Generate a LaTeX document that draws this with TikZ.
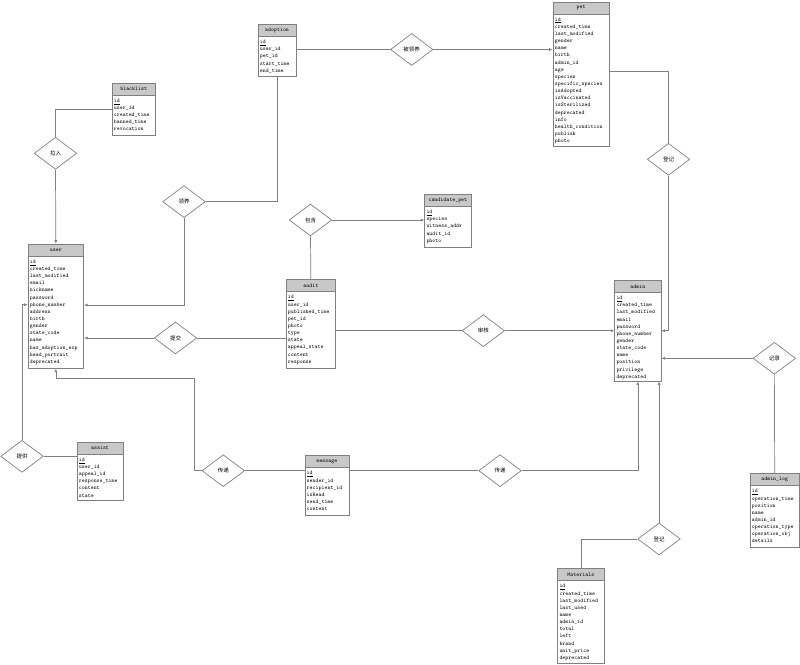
\documentclass[tikz,border=0pt]{standalone}
\usepackage{fontspec}
\newfontfamily\cjk{Noto Sans CJK SC}
\usetikzlibrary{shapes.geometric,arrows.meta}
\definecolor{lg}{RGB}{128,128,128}
\definecolor{hd}{RGB}{200,200,200}
\tikzset{
 entbox/.style={draw=lg, fill=white, line width=0.7pt, inner sep=0pt},
 enthead/.style={draw=lg, fill=hd, line width=0.7pt, minimum height=12pt, inner sep=0pt, font=\ttfamily\fontsize{5.6}{6}\selectfont},
 entrows/.style={align=left, inner xsep=2pt, inner ysep=3.3pt, font=\ttfamily\fontsize{5.6}{7.15}\selectfont, text=black},
 rel/.style={draw=lg, fill=white, diamond, line width=0.7pt, minimum width=42.5pt, minimum height=32pt, inner sep=0pt, font=\cjk\fontsize{5.5}{6}\selectfont},
 conn/.style={draw=lg, line width=0.7pt},
 arr/.style={conn, -{Latex[length=3.5pt,width=3pt]}},
}
\newcommand{\erent}[7]{%
 \node[entbox, minimum width=#4pt, minimum height=#5pt, anchor=north west] (#1) at (#2,#3) {};
 \node[enthead, minimum width=#4pt, anchor=north west] (#1-h) at (#1.north west) {#6};
 \node[entrows, anchor=north west] (#1-r) at (#1-h.south west) {#7};
}
\begin{document}
\begin{tikzpicture}[x=1pt,y=-1pt]
\useasboundingbox (0,0) rectangle (800,664);
\fill[white] (0,0) rectangle (800,664);

\erent{adoption}{257.7}{24}{38}{52}{adoption}{\underline{id}\\user\_id\\pet\_id\\start\_time\\end\_time}
\erent{blacklist}{111.7}{82.7}{43.3}{52.3}{blacklist}{\underline{id}\\user\_id\\created\_time\\banned\_time\\revocation}
\erent{pet}{552.7}{1.5}{56}{144.2}{pet}{\underline{id}\\created\_time\\last\_modified\\gender\\name\\birth\\admin\_id\\age\\species\\specific\_species\\isAdopted\\isVaccinated\\isSterilized\\deprecated\\info\\health\_condition\\publish\\photo}
\erent{user}{27.7}{243.7}{55.6}{124.3}{user}{\underline{id}\\created\_time\\last\_modified\\email\\nickname\\password\\phone\_number\\address\\birth\\gender\\state\_code\\name\\has\_adoption\_exp\\head\_portrait\\deprecated}
\erent{audit}{285.7}{279.3}{49.6}{88.4}{audit}{\underline{id}\\user\_id\\published\_time\\pet\_id\\photo\\type\\state\\appeal\_state\\content\\response}
\erent{candidate}{424.3}{194}{46.4}{52.7}{candidate\_pet}{\underline{id}\\species\\witness\_addr\\audit\_id\\photo}
\erent{admin}{614.3}{280}{46.4}{100.7}{admin}{\underline{id}\\created\_time\\last\_modified\\email\\password\\phone\_number\\gender\\state\_code\\name\\position\\privilege\\deprecated}
\erent{assist}{76.7}{441.7}{46}{58.3}{assist}{\underline{id}\\user\_id\\appeal\_id\\response\_time\\content\\state}
\erent{message}{304.5}{455.3}{44.2}{59.4}{message}{\underline{id}\\sender\_id\\recipient\_id\\isRead\\send\_time\\content}
\erent{materials}{557.3}{568.3}{46.4}{94.4}{Materials}{\underline{id}\\created\_time\\last\_modified\\last\_used\\name\\admin\_id\\total\\left\\brand\\unit\_price\\deprecated}
\erent{adminlog}{749.7}{473.3}{49.3}{74}{admin\_log}{\underline{id}\\operation\_time\\position\\name\\admin\_id\\operation\_type\\operation\_obj\\details}

\node[rel] (r1) at (411.7,49.5) {被领养};
\node[rel] (r2) at (668.5,159.3) {登记};
\node[rel] (r3) at (55.5,153.3) {拉入};
\node[rel] (r4) at (184,201.7) {领养};
\node[rel] (r5) at (175.5,338) {提交};
\node[rel] (r6) at (310.5,220) {包含};
\node[rel] (r7) at (483.3,330.7) {审核};
\node[rel] (r8) at (774.35,358.3) {记录};
\node[rel] (r9) at (22,456.3) {提供};
\node[rel] (r10) at (223.3,470.7) {传递};
\node[rel] (r11) at (500,470.7) {传递};
\node[rel] (r12) at (659,539) {登记};

\coordinate (b10) at (194.3,378.7);

\draw[conn] (adoption.east |- r1.west) -- (r1.west);
\draw[arr] (r1.east) -- (pet.west |- r1.east);
\draw[conn] (pet.east |- 0,71.7) -| (r2.north);
\draw[arr] (r2.south) |- (admin.east |- 0,330.7);
\draw[conn] (blacklist.west |- 0,109) -| (r3.north);
\draw[arr] (r3.south) -- (user.north);
\draw[conn] (adoption.south) |- (r4.east);
\draw[arr] (r4.south) |- (user.east |- 0,305);
\draw[conn] (audit.west |- r5.east) -- (r5.east);
\draw[arr] (r5.west) -- (user.east |- r5.west);
\draw[conn] (audit.north) -- (r6.south);
\draw[arr] (r6.east) -- (candidate.west |- r6.east);
\draw[conn] (audit.east |- r7.west) -- (r7.west);
\draw[arr] (r7.east) -- (admin.west |- r7.east);
\draw[conn] (adminlog.north) -- (r8.south);
\draw[arr] (r8.west) -- (admin.east |- r8.west);
\draw[conn] (assist.west |- r9.east) -- (r9.east);
\draw[arr] (r9.north) |- (user.west |- 0,304.7);
\draw[conn] (message.west |- r10.east) -- (r10.east);
\draw[arr] (r10.west) -| (b10) -| (user.south);
\draw[conn] (message.east |- r11.west) -- (r11.west);
\draw[arr] (r11.east) -| (admin.south);
\draw[conn] (materials.north) |- (r12.west);
\draw[arr] (r12.north) -- (admin.south -| r12.north);
\end{tikzpicture}
\end{document}
